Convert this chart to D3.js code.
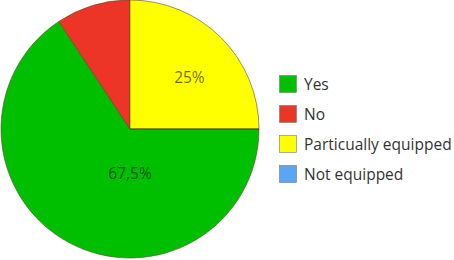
<!DOCTYPE html>
<html><head><meta charset="utf-8">
<script src="https://cdn.jsdelivr.net/npm/d3@7"></script>
<style>html,body{margin:0;padding:0;background:#fff;}svg{display:block;}</style>
</head><body>
<svg id="c" width="454" height="260"></svg>
<script>
const categories = ["Yes", "No", "Particually equipped", "Not equipped"];
const values = [65.7, 9.3, 25, 0];
const sliceLabels = ["67,5%", "", "25%", ""];
const colors = ["#00bf00", "#ec3526", "#ffff00", "#5aa5f5"];

const svg = d3.select("#c");
const cx = 130, cy = 129, r = 129;
const g = svg.append("g").attr("transform", `translate(${cx},${cy})`);
const pie = d3.pie().sort(null).value(d => d)
  .startAngle(Math.PI / 2).endAngle(Math.PI / 2 + 2 * Math.PI);
const arcs = pie(values);
const arc = d3.arc().innerRadius(0).outerRadius(r);
g.selectAll("path").data(arcs).join("path")
  .attr("d", arc)
  .attr("fill", (d, i) => colors[i])
  .attr("stroke", "#5a4a2a").attr("stroke-width", 0.6)
  .attr("stroke-linejoin", "round");

// label placement: small slices at mid-angle, large slices on the lower half
function labelPos(d) {
  let a, rr;
  if (d.endAngle - d.startAngle > Math.PI) {
    const lo = Math.max(d.startAngle, Math.PI / 2), hi = Math.min(d.endAngle, 3 * Math.PI / 2);
    a = (lo + hi) / 2; rr = r * 0.34;
  } else {
    a = (d.startAngle + d.endAngle) / 2 + 0.07; rr = r * 0.61;
  }
  return [Math.sin(a) * rr, -Math.cos(a) * rr];
}
g.selectAll("text.lab").data(arcs).join("text")
  .attr("class", "lab")
  .attr("transform", d => { const c = labelPos(d); return `translate(${c[0]},${c[1]})`; })
  .attr("text-anchor", "middle").attr("dominant-baseline", "central")
  .style("font-family", "'Open Sans', sans-serif").style("font-size", "15.5px")
  .attr("fill", "#000").attr("fill-opacity", 0.6)
  .text((d, i) => sliceLabels[i]);

const leg = svg.append("g");
const legItems = leg.selectAll("g").data(categories).join("g")
  .attr("transform", (d, i) => `translate(279, ${75 + i * 30})`);
legItems.append("rect").attr("x", 0.5).attr("y", 0.5).attr("width", 17).attr("height", 17)
  .attr("fill", (d, i) => colors[i]).attr("stroke", "#777").attr("stroke-width", 0.6);
legItems.append("text").attr("x", 25).attr("y", 9)
  .attr("dominant-baseline", "central")
  .style("font-family", "'Open Sans', sans-serif").style("font-size", "15.5px")
  .attr("fill", "#333").text(d => d);
</script>
</body></html>
